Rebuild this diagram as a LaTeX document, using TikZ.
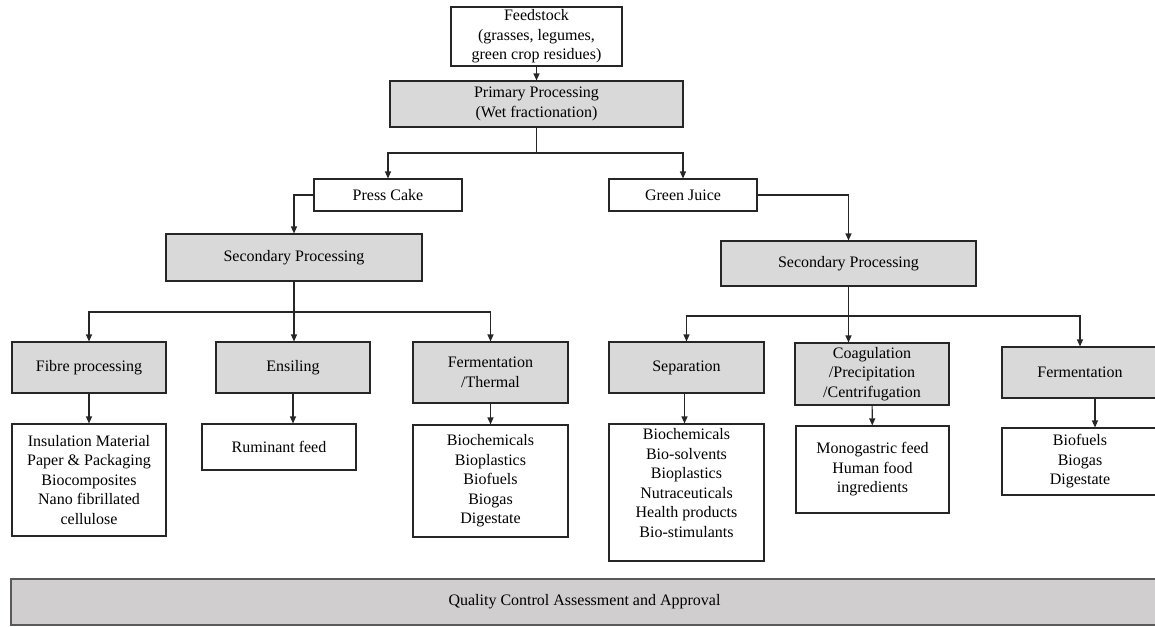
\documentclass[tikz,border=0pt]{standalone}
\usepackage{fontspec}
\setmainfont{Liberation Serif}
\usetikzlibrary{arrows.meta,positioning}
\definecolor{boxgray}{HTML}{D9D9D9}
\definecolor{qcgray}{HTML}{D0CECE}
\definecolor{edgegray}{HTML}{262626}
\definecolor{qcedge}{HTML}{595959}
\tikzset{
  basebox/.style={draw=edgegray,line width=1.1pt,align=center,inner sep=2pt,
    font=\fontsize{16}{19.5}\selectfont},
  procbox/.style={basebox,fill=boxgray},
  outbox/.style={basebox,fill=white},
  link/.style={draw=edgegray,line width=1.1pt},
  trunk/.style={link,line width=1.7pt},
  arrowlink/.style={link,-{Triangle[width=6pt,length=7pt]}},
}

\begin{document}
\begin{tikzpicture}[x=1pt,y=-1pt]
    \useasboundingbox (0,0) rectangle (1155,626);

    % Feedstock and primary processing
    \node[outbox,minimum width=171pt,minimum height=59pt] (feed) at (536.5,36.5)
        {Feedstock\\(grasses, legumes,\\green crop residues)};
    \node[procbox,minimum width=293pt,minimum height=46pt] (prim) at (536.5,104)
        {Primary Processing\\(Wet fractionation)};

    % Fractions
    \node[outbox,minimum width=148pt,minimum height=32pt] (cake) at (388,195) {Press Cake};
    \node[outbox,minimum width=148pt,minimum height=32pt] (juice) at (683,195) {Green Juice};

    % Secondary processing
    \node[procbox,minimum width=256pt,minimum height=47pt] (secL) at (294,257.5) {Secondary Processing};
    \node[procbox,minimum width=255pt,minimum height=45pt] (secR) at (848.5,263.5) {Secondary Processing};

    % Press cake routes
    \node[procbox,minimum width=154pt,minimum height=51pt] (fibre) at (89,367.5) {Fibre processing};
    \node[procbox,minimum width=154pt,minimum height=51pt] (ensil) at (293,367.5) {Ensiling};
    \node[procbox,minimum width=155pt,minimum height=61pt] (fermT) at (490.5,372.5) {Fermentation\\/Thermal};

    % Green juice routes
    \node[procbox,minimum width=155pt,minimum height=51pt] (sep) at (686.5,367.5) {Separation};
    \node[procbox,minimum width=154pt,minimum height=62pt] (coag) at (872,374)
        {Coagulation\\/Precipitation\\/Centrifugation};
    \node[procbox,minimum width=156pt,minimum height=51pt] (ferm) at (1080,372.5) {Fermentation};

    % Products
    \node[outbox,minimum width=154pt,minimum height=112pt] (insul) at (89,480)
        {Insulation Material\\Paper \& Packaging\\Biocomposites\\Nano fibrillated\\cellulose};
    \node[outbox,minimum width=154pt,minimum height=46pt] (rumin) at (279,447) {Ruminant feed};
    \node[outbox,minimum width=155pt,minimum height=112pt] (fermTP) at (490.5,481)
        {Biochemicals\\Bioplastics\\Biofuels\\Biogas\\Digestate};
    \node[outbox,minimum width=155pt,minimum height=137pt] (sepP) at (686.5,492.5)
        {Biochemicals\\Bio-solvents\\Bioplastics\\Nutraceuticals\\Health products\\Bio-stimulants\\\mbox{}};
    \node[outbox,minimum width=153pt,minimum height=87pt] (coagP) at (872.5,469.5)
        {Monogastric feed\\Human food\\ingredients};
    \node[outbox,minimum width=156pt,minimum height=67pt] (fermP) at (1080,461.5)
        {Biofuels\\Biogas\\Digestate};

    % Quality control bar
    \node[basebox,fill=qcgray,draw=qcedge,minimum width=1147pt,minimum height=46pt] (qc) at (584.5,602)
        {Quality Control Assessment and Approval};

    % Junctions
    \coordinate (j1) at (536.5,153);
    \coordinate (j2) at (294,312);
    \coordinate (j3) at (848.5,316);

    % Connectors
    \draw[arrowlink] (feed) -- (prim);
    \draw[trunk] (prim) -- (j1);
    \draw[arrowlink] (j1) -| (cake);
    \draw[arrowlink] (j1) -| (juice);
    \draw[arrowlink] (cake.west) -| (secL.north);
    \draw[arrowlink] (juice.east) -| (secR.north);

    \draw[link] (secL) -- (j2);
    \draw[arrowlink] (j2) -| (fibre);
    \draw[arrowlink] (j2) -- (j2 |- ensil.north);
    \draw[arrowlink] (j2) -| (fermT);

    \draw[link] (secR) -- (j3);
    \draw[arrowlink] (j3) -| (sep);
    \draw[arrowlink] (j3) -- (j3 |- coag.north);
    \draw[arrowlink] (j3) -| (ferm);

    \draw[arrowlink] (fibre) -- (insul);
    \draw[arrowlink] (ensil.south) -- (ensil.south |- rumin.north);
    \draw[arrowlink] (fermT) -- (fermTP);
    \draw[arrowlink] ([xshift=-2pt]sep.south) -- ([xshift=-2pt]sepP.north);
    \draw[arrowlink] (coag) -- (coagP);
    \draw[arrowlink] ([xshift=15pt]ferm.south) -- ([xshift=15pt]fermP.north);

\end{tikzpicture}
\end{document}
